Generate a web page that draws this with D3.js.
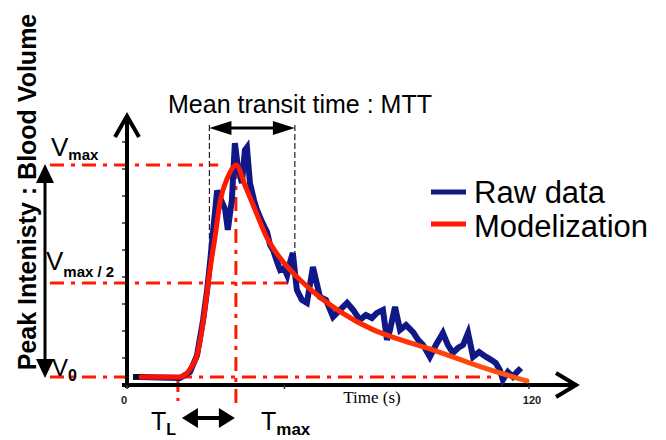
<!DOCTYPE html>
<html>
<head>
<meta charset="utf-8">
<script src="https://cdn.jsdelivr.net/npm/d3@7"></script>
<style>
  body { margin: 0; background: #fff; }
  text { font-family: Arial, "Liberation Sans", sans-serif; }
</style>
</head>
<body>
<svg id="chart" width="666" height="440"></svg>
<script>
// raw signal (time in s, value in tick units)
var rawT = [2.4, 4.8, 10, 16.4, 19.4, 21.5, 23.3, 24.5, 25.4, 26.3, 27.5, 28.7, 29.9, 30.7, 31.9, 32.8, 33.7, 34.9, 35.8, 36.4,
            37.3, 38.5, 39.4, 40.9, 42.4, 43.3, 44.2, 45.4, 46.3, 47.5, 48.4, 49.3, 50.1, 51.3, 52.8, 54.3, 56.1, 57.0, 58.2, 60.0,
            62.1, 64.2, 66.3, 68.1, 70.1, 71.9, 73.7, 75.2, 77.0, 78.2, 79.1, 80.6, 82.1, 83.9, 86.0, 87.5, 89.0, 91.0, 92.8, 94.9,
            96.4, 97.9, 99.4, 100.9, 102.4, 103.9, 105.7, 107.8, 109.3, 110.7, 111.9, 112.8, 114.3, 115.8, 117.0, 118.2];
var rawV = [0.3, 0.3, 0.28, 0.26, 0.48, 1.1, 2.4, 3.5, 4.55, 5.7, 7.2, 6.85, 6.5, 5.75, 6.85, 8.96, 8.07, 7.48, 8.7, 8.8,
            7.48, 6.85, 6.48, 6.04, 5.67, 5.19, 5.0, 4.56, 4.26, 4.33, 4.07, 4.56, 4.89, 3.52, 3.15, 3.04, 4.37, 3.89, 3.26, 3.15,
            2.52, 2.78, 3.04, 2.78, 2.41, 2.59, 2.48, 2.67, 2.78, 1.67, 2.04, 2.89, 2.04, 2.22, 1.96, 1.67, 1.48, 1.04, 1.48, 1.93,
            1.48, 1.19, 1.37, 1.48, 1.93, 1.04, 1.22, 1.04, 0.93, 0.81, 0.56, 0.19, 0.48, 0.3, 0.48, 0.63];

// fitted model curve
var modelT = [4.8, 16.4, 18.5, 20, 21.5, 23.3, 25.4, 26.9, 28.4, 30.7, 33.2, 35.8, 38.8, 42.4, 46.3, 52.2, 58.2, 64.2, 74, 82.1, 91.9, 102.1, 111.9, 120];
var modelV = [0.3, 0.3, 0.44, 0.7, 1.1, 2.3, 4.3, 5.5, 6.8, 7.7, 8.15, 7.4, 6.5, 5.45, 4.7, 3.9, 3.25, 2.72, 2.05, 1.68, 1.3, 0.85, 0.45, 0.15];

// annotation levels
var levelNames = ["V0", "Vmax/2", "Vmax"];
var levelValues = [0.3, 3.78, 8.15];
var levelEnds = [110, 50.7, 27.8];   // where each dash-dot line stops (s)
var tL = 15.8, tMax = 33.1;
var mttRange = [25.2, 50.7];
var yTicks = [1, 2, 3, 4, 5, 6, 7, 8, 9];
var xTickLabels = [0, 120];
var xTickMarks = [0, 47, 120];
var legendNames = ["Raw data", "Modelization"];

var blue = "#101888";
var red = "#ff1a00";

var svg = d3.select("#chart");
var x = d3.scaleLinear().domain([0, 120]).range([125, 527]);
var y = d3.scaleLinear().domain([0, 10]).range([385, 115]);

var dashDot = "14,7,4,7";

//gradient for the model (red going orange)
var grad = svg.append("defs").append("linearGradient")
  .attr("id", "mg").attr("gradientUnits", "userSpaceOnUse")
  .attr("x1", x(0)).attr("x2", x(120)).attr("y1", 0).attr("y2", 0);
grad.append("stop").attr("offset", "0%").attr("stop-color", "#ff0a00");
grad.append("stop").attr("offset", "60%").attr("stop-color", "#ff2a00");
grad.append("stop").attr("offset", "100%").attr("stop-color", "#ff5a10");

// horizontal level lines
svg.selectAll(".lvl").data(levelValues).enter().append("line")
  .attr("class", "lvl")
  .attr("x1", 50).attr("x2", function(d, i){ return x(levelEnds[i]); })
  .attr("y1", function(d){ return y(d); }).attr("y2", function(d){ return y(d); })
  .attr("stroke", red).attr("stroke-width", 3).attr("stroke-dasharray", dashDot);

// vertical markers
svg.append("line")
  .attr("x1", x(tMax)).attr("x2", x(tMax))
  .attr("y1", y(levelValues[2])).attr("y2", 410)
  .attr("stroke", red).attr("stroke-width", 3).attr("stroke-dasharray", dashDot);
svg.append("line")
  .attr("x1", x(tL)).attr("x2", x(tL))
  .attr("y1", y(levelValues[0]) + 3).attr("y2", 401)
  .attr("stroke", red).attr("stroke-width", 3).attr("stroke-dasharray", "12,6");

// mtt box
[0, 1].forEach(function(i){
  svg.append("line")
    .attr("x1", x(mttRange[i])).attr("x2", x(mttRange[i]))
    .attr("y1", 125).attr("y2", i == 0 ? 280 : 258)
    .attr("stroke", "#222").attr("stroke-width", 1.2).attr("stroke-dasharray", "6,3");
});

function doubleArrowH(x1, x2, yy, hl, hw, sw){
  svg.append("line").attr("x1", x1 + hl - 2).attr("x2", x2 - hl + 2)
    .attr("y1", yy).attr("y2", yy).attr("stroke", "#000").attr("stroke-width", sw);
  svg.append("path").attr("d", "M" + x1 + "," + yy + "L" + (x1 + hl) + "," + (yy - hw) + "L" + (x1 + hl) + "," + (yy + hw) + "Z");
  svg.append("path").attr("d", "M" + x2 + "," + yy + "L" + (x2 - hl) + "," + (yy - hw) + "L" + (x2 - hl) + "," + (yy + hw) + "Z");
}
doubleArrowH(x(mttRange[0]), x(mttRange[1]), 128, 22, 7, 3);
doubleArrowH(x(tL) + 4, x(tMax) - 1, 418, 16, 10, 4);

// vertical double arrow on left
var ax = 45;
svg.append("line").attr("x1", ax).attr("x2", ax)
  .attr("y1", y(levelValues[2]) + 15).attr("y2", y(levelValues[0]) - 15)
  .attr("stroke", "#000").attr("stroke-width", 3);
svg.append("path").attr("d", "M" + ax + "," + (y(levelValues[2]) - 1) + "l-9,19h18z");
svg.append("path").attr("d", "M" + ax + "," + (y(levelValues[0]) + 1) + "l-9,-19h18z");

// axes
svg.append("line").attr("x1", x(0) + 2).attr("x2", x(0) + 2).attr("y1", 388).attr("y2", y(10))
  .attr("stroke", "#000").attr("stroke-width", 4);
svg.append("path").attr("d", "M" + (x(0) - 10) + "," + (y(10) + 22) + "L" + (x(0) + 2) + "," + (y(10) + 1) + "L" + (x(0) + 14) + "," + (y(10) + 22))
  .attr("fill", "none").attr("stroke", "#000").attr("stroke-width", 4);
svg.append("line").attr("x1", 122).attr("x2", 577).attr("y1", y(0)).attr("y2", y(0))
  .attr("stroke", "#000").attr("stroke-width", 4);
svg.append("path").attr("d", "M556,373L576," + y(0) + "L556,397")
  .attr("fill", "none").attr("stroke", "#000").attr("stroke-width", 4);

svg.selectAll(".yt").data(yTicks).enter().append("line")
  .attr("x1", x(0) - 3).attr("x2", x(0))
  .attr("y1", function(d){ return y(d); }).attr("y2", function(d){ return y(d); })
  .attr("stroke", "#333").attr("stroke-width", 1.5);
svg.selectAll(".xt").data(xTickMarks).enter().append("line")
  .attr("x1", function(d){ return x(d) + 2; }).attr("x2", function(d){ return x(d) + 2; })
  .attr("y1", y(0)).attr("y2", y(0) + 4)
  .attr("stroke", "#333").attr("stroke-width", 1.5);
svg.selectAll(".xl").data(xTickLabels).enter().append("text")
  .attr("x", function(d){ return x(d) + (d == 0 ? -1 : 5); }).attr("y", 404)
  .attr("text-anchor", "middle").attr("font-size", 11).attr("font-weight", "bold").attr("fill", "#222")
  .text(function(d){ return d; });

svg.append("text").attr("x", 372).attr("y", 403).attr("text-anchor", "middle")
  .style("font-family", "'Liberation Serif', 'Times New Roman', serif").attr("font-size", 17)
  .text("Time (s)");

// data lines
var line = d3.line().x(function(d){ return x(d[0]); }).y(function(d){ return y(d[1]); });
svg.append("path").datum(d3.zip(rawT, rawV))
  .attr("d", line).attr("fill", "none").attr("stroke", blue).attr("stroke-width", 6)
  .attr("stroke-linejoin", "miter");
svg.append("path").datum(d3.zip(rawT.slice(0, 2), rawV.slice(0, 2)))
  .attr("d", line).attr("fill", "none").attr("stroke", "#111").attr("stroke-width", 5);
svg.append("path").datum(d3.zip(modelT, modelV))
  .attr("d", line.curve(d3.curveMonotoneX)).attr("fill", "none").attr("stroke", "url(#mg)")
  .attr("stroke-width", 5).attr("stroke-linecap", "round");

// texts
svg.append("text").attr("transform", "translate(36,192) rotate(-90)")
  .attr("text-anchor", "middle").attr("font-size", 25).attr("font-weight", "bold")
  .text("Peak Intenisty : Blood Volume");

svg.append("text").attr("x", 300).attr("y", 113).attr("text-anchor", "middle").attr("font-size", 25)
  .text("Mean transit time : MTT");

function subLabel(xx, yy, main, sub, size, subSize, dy){
  var t = svg.append("text").attr("x", xx).attr("y", yy).attr("font-size", size);
  t.append("tspan").text(main);
  t.append("tspan").attr("dy", dy).attr("font-size", subSize).attr("font-weight", "bold").text(sub);
}
subLabel(51, 156, "V", "max", 26, 15, 4);
subLabel(46, 270, "V", "max / 2", 26, 15, 7);
subLabel(52, 376, "V", "0", 24, 16, 5);
subLabel(151, 430, "T", "L", 25, 16, 5);
subLabel(261, 430, "T", "max", 25, 17, 5);

// legend
var legColors = [blue, red];
legendNames.forEach(function(n, i){
  var ly = 192 + i * 32;
  svg.append("line").attr("x1", 431).attr("x2", 466).attr("y1", ly).attr("y2", ly)
    .attr("stroke", legColors[i]).attr("stroke-width", 5);
  svg.append("text").attr("x", 474).attr("y", ly + 11 + i * 2).attr("font-size", 31).text(n);
});
</script>
</body>
</html>
